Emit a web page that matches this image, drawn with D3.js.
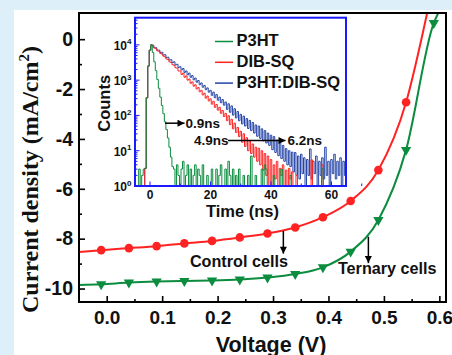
<!DOCTYPE html>
<html><head><meta charset="utf-8">
<script src="https://cdn.jsdelivr.net/npm/d3@7"></script>
<style>
html,body{margin:0;padding:0;background:#ddeff9;}
svg{display:block;}
text{font-family:"Liberation Sans",Arial,sans-serif;font-weight:bold;fill:#111;}
</style></head><body>
<svg id="chart" width="452" height="355"></svg>
<script>
// ---------- J-V data ----------
const voltage = [-0.01,0.04,0.09,0.14,0.19,0.24,0.29,0.34,0.39,0.44,0.49,0.54,0.59];
const controlJ = [-8.46,-8.38,-8.30,-8.19,-8.09,-7.95,-7.79,-7.55,-7.14,-6.49,-5.25,-2.53];
const ternaryJ = [-9.83,-9.76,-9.72,-9.70,-9.68,-9.64,-9.56,-9.42,-9.15,-8.52,-7.25,-4.44,0.65];
const controlEdgeV = [-0.05, 0.578], controlEdgeJ = [-8.53, 1.05];
const ternaryEdgeV = [-0.05, 0.598], ternaryEdgeJ = [-9.86, 1.05];
const xMajor = [0,0.1,0.2,0.3,0.4,0.5,0.6];
const xMinor = [0.05,0.15,0.25,0.35,0.45,0.55];
const yMajor = [0,-2,-4,-6,-8,-10];
const yMinor = [-1,-3,-5,-7,-9];

// ---------- TRPL inset data (log10 counts, 0.5 ns channels from -4.5 ns) ----------
const decayStart = -4.5, decayStep = 0.5;
const p3htLog = [0,0,0.48,0,0.3,0.48,0.5,2.5,3.4,3.85,4.0,3.78,3.52,3.27,3.02,2.77,2.52,2.28,2.05,1.82,1.6,1.36,1.1,0.82,0.55,
 0.48,0,0.6,0.3,0,0.48,0.7,0,0.3,0.6,0,0.48,0,0.3,0.6,0,0.48,0.3,0,0.6,
 0,0,0.3,0,0,0.48,0,0,
 0.48,0,0.3,0.6,0,0,0.48,0,0.7,0.3,0,0.48,0,0.3,0,0.48,0,0,0.3,0,
 0,0.3,0,0.85,0,0,0.3,0,0,0,0.48,0,0.6,0.48,0,0,
 0,0,0.3,0,0,0,0,0.48,0,0, 0,0,0,0.3,0,0,0,0,0,0, 0,0,0,0,0,0,0,0,0,0, 0,0,0,0,0.5,0,0,0,0,0, 0,0,0,0,0,0,0,0,0,0,0];
const dibsqLog = [0,0,0,0,0,0, 0.5,2.5,3.4,3.85,4.0,
 3.97,3.91,3.89,3.83,3.82,3.76,3.74,3.68,3.66,3.60,3.58,3.52,3.50,3.44,3.42,3.35,3.34,3.26,3.26,
 3.16,3.20,3.08,3.12,3.00,3.03,2.91,2.95,2.83,2.87,2.75,2.79,2.67,2.71,2.58,2.63,2.49,2.55,2.41,2.47,
 2.32,2.40,2.23,2.31,2.15,2.23,2.06,2.14,1.97,2.06,
 1.85,1.99,1.74,1.89,1.62,1.78,1.52,1.66,1.40,1.55,
 1.24,1.48,1.12,1.37,1.0,1.28,0.92,1.19,0.82,1.1,
 0.7,1.07,0.6,1.0,0.45,0.92,0.3,0.85,0,0.75,
 0,0.6,0.2,0.7,0,0.5,0.3,0.6,0,0.45,0,0.5,0.2,0.4,
 0,0,0.3,0,0,0,0,0,0,0,0,0,0.74,0,0,0,0,0,0,0.6,0,0,0,0,0,0,0,0,0,0,0,0,0,0,0,0];
const blendLog = [0,0,0,0,0,0, 0.5,2.5,3.4,3.85,4.0,
 3.99,3.92,3.92,3.85,3.85,3.78,3.79,3.71,3.72,3.64,3.65,3.57,3.58,3.50,3.52,3.43,3.45,3.36,3.38,
 3.29,3.33,3.22,3.26,3.15,3.20,3.08,3.13,3.01,3.06,2.94,2.99,2.87,2.92,2.80,2.85,2.73,2.78,2.66,2.71,
 2.57,2.66,2.50,2.59,2.43,2.52,2.36,2.45,2.29,2.38,
 2.17,2.33,2.09,2.27,2.01,2.19,1.93,2.11,1.85,2.03,
 1.76,1.98,1.70,1.91,1.63,1.86,1.57,1.80,1.50,1.73,
 1.41,1.70,1.35,1.62,1.28,1.57,1.22,1.50,1.15,1.44,
 1.03,1.40,0.95,1.30,0.86,1.23,0.78,1.15,0.70,1.06,0.6,1.0,0.55,0.96,
 0.4,0.95,0.3,0.85,0.2,0.9,0.35,0.8,0,0.75,0.3,1.05,0.2,0.7,0.35,0.85,0,0.7,0.3,0.8,0.2,1.1,0.3,0.7,0,0.75,0.35,0.9,0.2,0.7,0.3,0.8,0,0.7,0.3,0.75];
const seriesNames = ["P3HT","DIB-SQ","P3HT:DIB-SQ"];
const insetXTicks = [0,20,40,60];
const insetYDecades = [0,1,2,3,4];
const lifetimeLabels = ["0.9ns","4.9ns","6.2ns"];

const GREEN = "#0b8c3e", RED = "#ff2222", BLUE = "#2343a6", FRAME_BLUE = "#1a1aff";

const svg = d3.select('#chart');
svg.append('rect').attr('x',14).attr('y',10).attr('width',438).attr('height',345).attr('fill','#fff');

// arrow marker
const defs = svg.append('defs');
defs.append('marker').attr('id','arrow').attr('viewBox','0 0 10 10')
  .attr('refX',10).attr('refY',5).attr('markerUnits','userSpaceOnUse')
  .attr('markerWidth',8).attr('markerHeight',7).attr('orient','auto')
  .append('path').attr('d','M0,0L10,5L0,10Z').attr('fill','#000');

// ---------- main plot ----------
const x = d3.scaleLinear().domain([-0.05,0.612]).range([79,446]);
const y = d3.scaleLinear().domain([-10.54,1.05]).range([302,13]);
defs.append('clipPath').attr('id','mainClip').append('rect')
  .attr('x',79).attr('y',13).attr('width',367).attr('height',289);

function styleAxis(g, fs){
  g.select('.domain').remove();
  g.attr('font-family','"Liberation Sans",Arial,sans-serif').attr('font-size',fs).attr('font-weight','bold');
  g.selectAll('line').attr('stroke','#000').attr('stroke-width',1.6);
  g.selectAll('text').attr('fill','#111');
}
svg.append('g').attr('transform','translate(0,302)')
  .call(d3.axisBottom(x).tickValues(xMajor).tickSize(-6).tickPadding(9).tickFormat(d3.format('.1f')))
  .call(g=>styleAxis(g,19));
svg.append('g').attr('transform','translate(0,302)')
  .call(d3.axisBottom(x).tickValues(xMinor).tickSize(-3).tickFormat(''))
  .call(g=>styleAxis(g,19));
svg.append('g').attr('transform','translate(79,0)')
  .call(d3.axisLeft(y).tickValues(yMajor).tickSize(-6).tickPadding(6).tickFormat(d=>String(d)))
  .call(g=>styleAxis(g,19.5));
svg.append('g').attr('transform','translate(79,0)')
  .call(d3.axisLeft(y).tickValues(yMinor).tickSize(-3).tickFormat(''))
  .call(g=>styleAxis(g,19.5));

const line = d3.line().x(d=>x(d[0])).y(d=>y(d[1])).curve(d3.curveMonotoneX);
const controlPts = voltage.slice(0,controlJ.length).map((v,i)=>[v,controlJ[i]]);
const ternaryPts = voltage.map((v,i)=>[v,ternaryJ[i]]);
const curves = svg.append('g').attr('clip-path','url(#mainClip)');
curves.append('path').datum([[controlEdgeV[0],controlEdgeJ[0]],...controlPts,[controlEdgeV[1],controlEdgeJ[1]]])
  .attr('d',line).attr('fill','none').attr('stroke',RED).attr('stroke-width',2);
curves.append('path').datum([[ternaryEdgeV[0],ternaryEdgeJ[0]],...ternaryPts,[ternaryEdgeV[1],ternaryEdgeJ[1]]])
  .attr('d',line).attr('fill','none').attr('stroke',GREEN).attr('stroke-width',2);
curves.selectAll('circle.c').data(controlPts).join('circle')
  .attr('cx',d=>x(d[0])).attr('cy',d=>y(d[1])).attr('r',4.3).attr('fill',RED);
const tri = d3.symbol().type(d3.symbolTriangle).size(46);
curves.selectAll('path.t').data(ternaryPts).join('path')
  .attr('d',tri).attr('transform',d=>`translate(${x(d[0])},${y(d[1])}) rotate(180)`).attr('fill',GREEN);

// frame
svg.append('rect').attr('x',79).attr('y',13).attr('width',367).attr('height',289)
  .attr('fill','none').attr('stroke','#000').attr('stroke-width',2);

// titles
svg.append('text').attr('x',271).attr('y',351.5).attr('text-anchor','middle')
  .attr('font-size',21.5).text('Voltage (V)');
const yt = svg.append('text').attr('transform','translate(38.3,179.5) rotate(-90)')
  .attr('text-anchor','middle').attr('font-size',24)
  .style('font-family','"Liberation Serif","Times New Roman",serif');
yt.append('tspan').text('Current density (mA/cm');
yt.append('tspan').attr('dy',-9).attr('font-size',15).text('2');
yt.append('tspan').attr('dy',9).text(')');

// annotations
svg.append('line').attr('x1',x(0.3186)).attr('x2',x(0.3186)).attr('y1',y(-7.69)).attr('y2',y(-8.6))
  .attr('stroke','#000').attr('stroke-width',1.5).attr('marker-end','url(#arrow)');
svg.append('text').attr('x',x(0.150)).attr('y',y(-9.12)).attr('font-size',16.2).text('Control cells');
svg.append('line').attr('x1',x(0.472)).attr('x2',x(0.472)).attr('y1',y(-7.92)).attr('y2',y(-8.98))
  .attr('stroke','#000').attr('stroke-width',1.5).attr('marker-end','url(#arrow)');
svg.append('text').attr('x',x(0.417)).attr('y',y(-9.43)).attr('font-size',16.2).text('Ternary cells');

// ---------- inset ----------
const ix = d3.scaleLinear().domain([-4.96,64.8]).range([135,346]);
const iy = d3.scaleLog().domain([1,Math.pow(10,4.77)]).range([186,17.7]);
defs.append('clipPath').attr('id','insetClip').append('rect')
  .attr('x',135).attr('y',17.7).attr('width',211).attr('height',168.3);
svg.append('rect').attr('x',135).attr('y',17.7).attr('width',211).attr('height',168.3).attr('fill','#fff');

const iline = d3.line().x((d,i)=>ix(decayStart+i*decayStep)).y(d=>iy(Math.pow(10,d))).curve(d3.curveStep);
const ig = svg.append('g').attr('clip-path','url(#insetClip)');
ig.append('path').datum(blendLog).attr('d',iline).attr('fill','none').attr('stroke',BLUE).attr('stroke-width',1);
ig.append('path').datum(dibsqLog).attr('d',iline).attr('fill','none').attr('stroke',RED).attr('stroke-width',1);
ig.append('path').datum(p3htLog).attr('d',iline).attr('fill','none').attr('stroke',GREEN).attr('stroke-width',1);

// inset ticks
const it = svg.append('g').attr('stroke',FRAME_BLUE).attr('stroke-width',1);
insetYDecades.forEach(k=>{
  it.append('line').attr('x1',135).attr('x2',139.5).attr('y1',iy(Math.pow(10,k))).attr('y2',iy(Math.pow(10,k)));
  for(let m=2;m<=9;m++){
    const v = m*Math.pow(10,k);
    if (v < iy.domain()[1]) it.append('line').attr('x1',135).attr('x2',137.5).attr('y1',iy(v)).attr('y2',iy(v));
  }
});
insetXTicks.forEach(t=>{
  it.append('line').attr('x1',ix(t)).attr('x2',ix(t)).attr('y1',186).attr('y2',181.5);
  it.append('line').attr('x1',ix(t+10)).attr('x2',ix(t+10)).attr('y1',186).attr('y2',183.5);
});
svg.append('rect').attr('x',135).attr('y',17.7).attr('width',211).attr('height',168.3)
  .attr('fill','none').attr('stroke',FRAME_BLUE).attr('stroke-width',2);

// inset labels
insetYDecades.forEach(k=>{
  const t = svg.append('text').attr('x',131.5).attr('y',iy(Math.pow(10,k))+5).attr('text-anchor','end').attr('font-size',12);
  t.append('tspan').text('10');
  t.append('tspan').attr('dy',-5.5).attr('font-size',8).text(String(k));
});
insetXTicks.forEach(tv=>{
  svg.append('text').attr('x',ix(tv)).attr('y',199).attr('text-anchor','middle').attr('font-size',12).text(String(tv));
});
svg.append('text').attr('x',242.5).attr('y',216.5).attr('text-anchor','middle').attr('font-size',16.5).text('Time (ns)');
svg.append('text').attr('transform','translate(109.5,103.3) rotate(-90)').attr('text-anchor','middle')
  .attr('font-size',16.5).text('Counts');

// legend
const legColors = [GREEN, RED, BLUE];
seriesNames.forEach((s,i)=>{
  const yy = 41.5 + i*20.8;
  svg.append('line').attr('x1',215).attr('x2',233).attr('y1',yy).attr('y2',yy)
    .attr('stroke',legColors[i]).attr('stroke-width',1.5);
  svg.append('text').attr('x',236.5).attr('y',yy+4.5+0.3).attr('font-size',16.5).text(s);
});

// lifetime annotations
const aY1 = iy(Math.pow(10,1.78)), aY2 = iy(Math.pow(10,1.29));
svg.append('line').attr('x1',165).attr('x2',184.5).attr('y1',aY1).attr('y2',aY1)
  .attr('stroke','#000').attr('stroke-width',1.5).attr('marker-end','url(#arrow)');
svg.append('text').attr('x',185.5).attr('y',aY1+4.8).attr('font-size',13.5).text(lifetimeLabels[0]);
svg.append('text').attr('x',194).attr('y',aY2+4.8).attr('font-size',13.5).text(lifetimeLabels[1]);
svg.append('line').attr('x1',228).attr('x2',285.5).attr('y1',aY2).attr('y2',aY2)
  .attr('stroke','#000').attr('stroke-width',1.5).attr('marker-end','url(#arrow)');
svg.append('text').attr('x',287.5).attr('y',aY2+4.8).attr('font-size',13.5).text(lifetimeLabels[2]);
</script>
</body></html>
